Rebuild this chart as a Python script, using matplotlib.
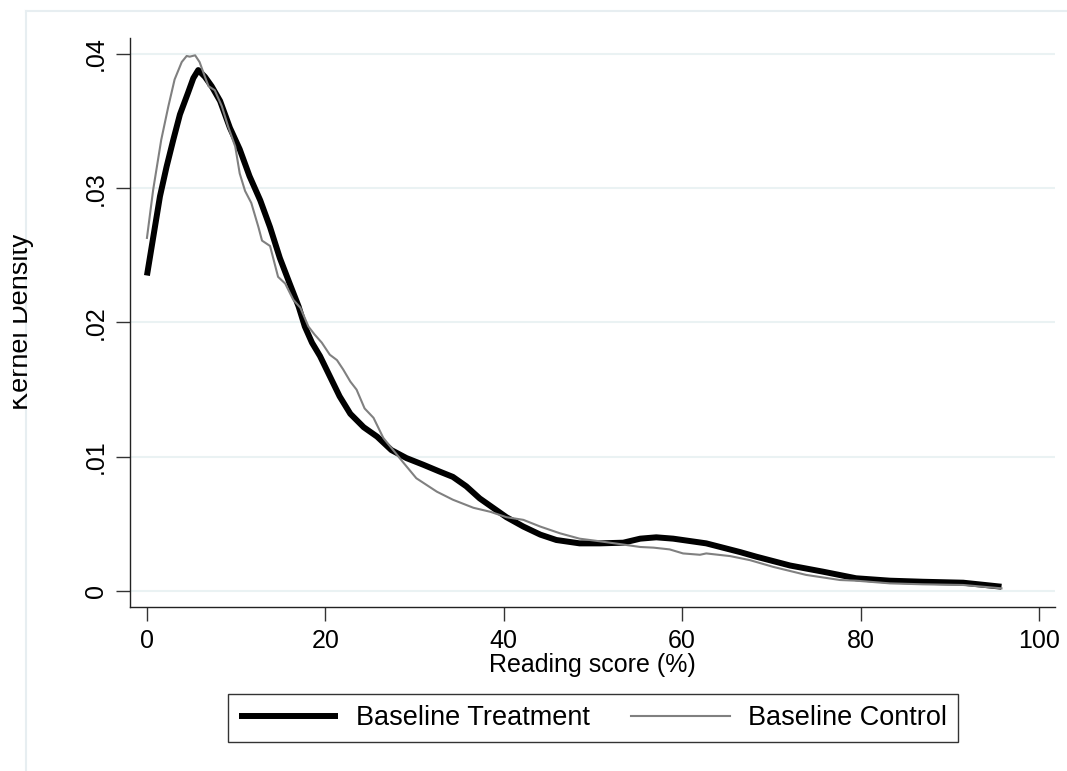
import matplotlib
matplotlib.use('Agg')
from matplotlib import pyplot as plt
from matplotlib.lines import Line2D
from matplotlib.transforms import Bbox, TransformedBbox

# kernel density estimates
treat_x = [0, 1.46, 2.2, 2.95, 3.7, 4.6, 5.2, 5.75, 6.5, 7.25, 8.2, 9.3, 10.4, 11.5,
           12.7, 13.8, 14.9, 16.0, 17.0, 17.7, 18.5, 19.4, 20.5, 21.6, 22.8, 24.3,
           25.8, 27.4, 29.1, 31.0, 32.8, 34.3, 35.8, 37.3, 38.8, 40.3, 42.2, 44.1,
           45.9, 48.5, 50.8, 53.4, 55.3, 57.1, 59.0, 62.7, 66.5, 68.3, 72.1, 75.8,
           79.5, 83.3, 87.0, 91.5, 95.8]
treat_y = [0.0235, 0.0294, 0.0316, 0.0336, 0.0355, 0.0371, 0.0382, 0.0388, 0.0383,
           0.0376, 0.0365, 0.0345, 0.0329, 0.0309, 0.0291, 0.0271, 0.0248, 0.0229,
           0.0212, 0.0197, 0.0185, 0.0175, 0.0160, 0.0145, 0.0132, 0.0122, 0.0115,
           0.0105, 0.0099, 0.0094, 0.0089, 0.0085, 0.0078, 0.0069, 0.0062, 0.0055,
           0.0048, 0.0042, 0.0038, 0.00355, 0.00355, 0.0036, 0.0039, 0.0040, 0.0039,
           0.00355, 0.0029, 0.00256, 0.0019, 0.00144, 0.00095, 0.00077, 0.00069,
           0.00062, 0.00032]

ctrl_x = [0, 0.7, 1.6, 2.4, 3.1, 3.9, 4.45, 4.8, 5.4, 5.9, 6.5, 6.9, 7.6, 8.4, 9.1,
          9.9, 10.4, 11.0, 11.7, 12.5, 12.9, 13.8, 14.7, 15.5, 16.4, 17.2, 18.1,
          18.8, 19.6, 20.5, 21.3, 22.0, 22.8, 23.5, 24.4, 25.4, 26.5, 27.6, 28.7,
          30.2, 32.5, 34.3, 36.6, 38.5, 40.3, 42.2, 44.1, 46.3, 48.5, 50.8, 53.0,
          55.3, 56.8, 58.6, 60.1, 62.0, 62.7, 65.4, 67.6, 70.2, 73.9, 77.7, 79.5,
          83.3, 87.0, 91.5, 95.8]
ctrl_y = [0.0263, 0.0299, 0.0336, 0.0361, 0.0381, 0.0394, 0.03985, 0.0398, 0.0399,
          0.0394, 0.0383, 0.0376, 0.0373, 0.0361, 0.0346, 0.0331, 0.0311, 0.0298,
          0.0289, 0.0271, 0.0261, 0.0257, 0.0234, 0.0229, 0.0217, 0.0211, 0.0197,
          0.0191, 0.0185, 0.0176, 0.0172, 0.0165, 0.0156, 0.0150, 0.0136, 0.0129,
          0.0114, 0.0105, 0.0096, 0.0084, 0.0074, 0.0068, 0.0062, 0.0059, 0.0055,
          0.0053, 0.0048, 0.0043, 0.0039, 0.0037, 0.0035, 0.00328, 0.00323, 0.0031,
          0.0028, 0.0027, 0.0028, 0.0026, 0.0023, 0.0018, 0.0012, 0.00082, 0.00077,
          0.00057, 0.0005, 0.00045, 0.0002]

x_ticks = [0, 20, 40, 60, 80, 100]
y_ticks = [0, 0.01, 0.02, 0.03, 0.04]
y_tick_labels = ['0', '.01', '.02', '.03', '.04']

plt.rcParams['font.family'] = ['Liberation Sans', 'DejaVu Sans']

W, H = 1067, 771
fig = plt.figure(figsize=(W / 100, H / 100), dpi=100)
ax = fig.add_axes([130 / W, 1 - 607 / H, (1055 - 130) / W, (607 - 38) / H])

# light outer frame of the graph region
frame_col = '#e7eef1'
fig.add_artist(Line2D([26 / W, 26 / W], [0, 1 - 11 / H], color=frame_col, lw=1.5))
fig.add_artist(Line2D([26 / W, 1], [1 - 11 / H, 1 - 11 / H], color=frame_col, lw=1.5))

ax.plot(treat_x, treat_y, color='black', lw=4.3, solid_capstyle='butt',
        label='Baseline Treatment')
ax.plot(ctrl_x, ctrl_y, color='#808080', lw=1.5, label='Baseline Control')

for yv in y_ticks:
    ax.axhline(yv, color='#eaf2f3', lw=1.5, zorder=0)

ax.set_xlim(-1.9, 101.8)
ax.set_ylim(-0.00119, 0.04119)

ax.set_xticks(x_ticks)
ax.set_yticks(y_ticks)
ax.set_yticklabels(y_tick_labels, rotation=90, va='center')
ax.tick_params(axis='both', labelsize=18, length=10, width=1, color='#333333')
ax.tick_params(axis='x', pad=6)
ax.tick_params(axis='y', pad=6)

for side in ['top', 'right']:
    ax.spines[side].set_visible(False)
for side in ['left', 'bottom']:
    ax.spines[side].set_color('#222222')
    ax.spines[side].set_linewidth(1)

ax.set_xlabel('Reading score (%)', fontsize=18, labelpad=0)

ylab = fig.text(34 / W, 1 - 322 / H, 'Kernel Density', rotation=90, fontsize=19.5,
                ha='right', va='center')
ylab.set_clip_box(TransformedBbox(Bbox([[13 / W, 0], [1, 1]]), fig.transFigure))
ylab.set_clip_on(True)

leg = ax.legend(loc='center', bbox_to_anchor=(593 / W, 1 - 718 / H),
                bbox_transform=fig.transFigure, ncol=2, fontsize=19.5,
                frameon=True, fancybox=False, handlelength=3.65,
                handletextpad=0.66, columnspacing=1.55, borderpad=0.4)
leg.get_frame().set_edgecolor('black')
leg.get_frame().set_linewidth(1)

plt.savefig('out.png', dpi=100, facecolor='white')
